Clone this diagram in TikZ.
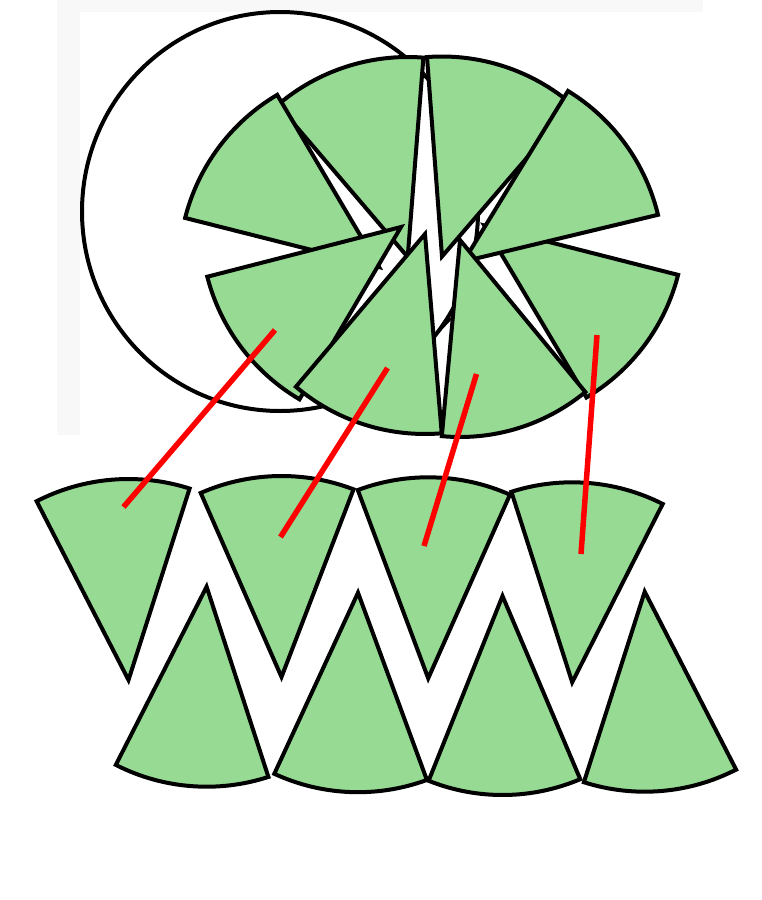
\documentclass[tikz,border=0pt]{standalone}
\definecolor{leaf}{HTML}{96DA94}
\definecolor{bggray}{HTML}{F8F8F8}
\definecolor{pointer}{HTML}{FF0000}
\tikzset{
  sec/.style={fill=leaf, draw=black, line width=4pt},
  outline/.style={draw=black, line width=4pt},
  redline/.style={draw=pointer, line width=5.5pt},
  thin/.style={draw=black, line width=3pt}
}
% apex x, apex y, radius, start angle, end angle
\newcommand{\mysector}[5]{%
  \filldraw[sec] (#1,#2) -- ++(#4:#3) arc[start angle=#4, end angle=#5, radius=#3] -- cycle;}
\begin{document}
\begin{tikzpicture}[x=1pt,y=-1pt]
\useasboundingbox (0,0) rectangle (761,900);
\fill[white] (0,0) rectangle (761,900);
\fill[bggray] (57,0) rectangle (703,435);
\fill[white] (80,12) rectangle (703,435);
% original circle
\draw[outline, fill=white] (280,211.5) ellipse [x radius=198, y radius=199.5];
% exploded circle (top)
\mysector{407.7}{257}{200}{229.5}{274.5}   % S2
\mysector{379}{267}{200}{194.2}{239.4}     % S1
\mysector{401}{227}{200}{120.5}{165.6}     % S5
\mysector{442}{256.5}{200}{265.7}{310.7}   % S3
\mysector{484.3}{225.5}{200}{14.3}{59.3}   % S8
\mysector{463.5}{261.5}{200}{301.5}{346.5} % S4
\mysector{460}{240}{197}{50.5}{95.3}       % S7
\mysector{425}{234}{200}{85.2}{130.2}      % S6
\draw[thin] (434,336) -- (451,318);
% rearranged sectors (bottom)
\mysector{128.5}{680}{201}{242.8}{287.7}   % T1
\mysector{281.5}{677}{201}{246.3}{291}     % T2
\mysector{428.2}{678.3}{201}{249.5}{294}   % T3
\mysector{572.2}{682.3}{200}{252.3}{296.9} % T4
\mysector{206.6}{586.7}{200}{72}{117}      % B1
\mysector{358}{592.7}{199.5}{69.8}{114.8}  % B2
\mysector{502.5}{596}{199}{67}{111.8}      % B3
\mysector{644.7}{591.7}{200}{62.8}{107.7}  % B4
% red pointers
\coordinate (a1) at (275,330);   \coordinate (b1) at (123.5,507);
\coordinate (a2) at (387.5,368); \coordinate (b2) at (280.5,537);
\coordinate (a3) at (476.5,374); \coordinate (b3) at (424,546);
\coordinate (a4) at (597,335);   \coordinate (b4) at (581,554);
\draw[redline] (a1) -- (b1);
\draw[redline] (a2) -- (b2);
\draw[redline] (a3) -- (b3);
\draw[redline] (a4) -- (b4);
\end{tikzpicture}
\end{document}
